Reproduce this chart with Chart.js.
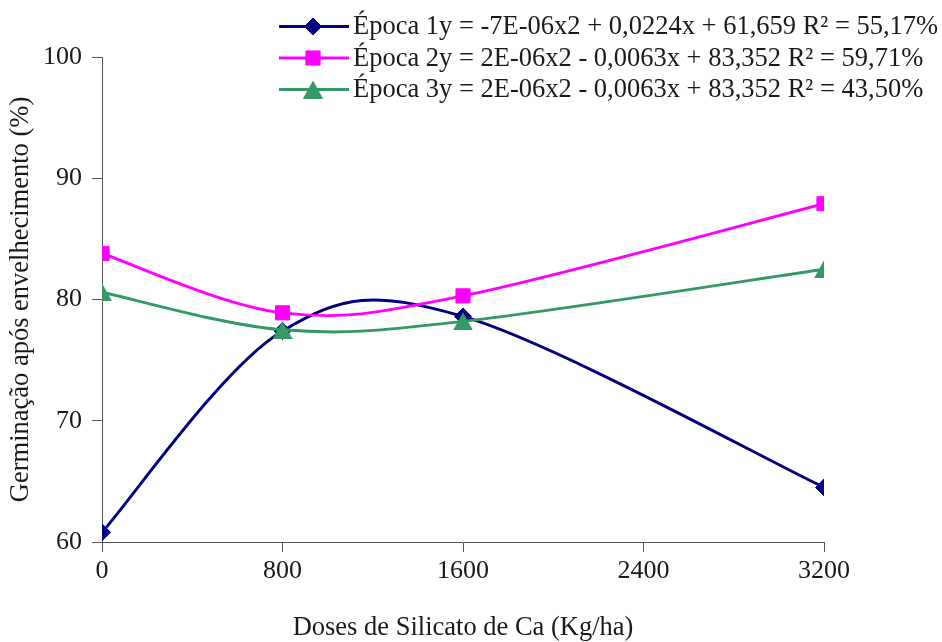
<!DOCTYPE html>
<html>
<head>
<meta charset="utf-8">
<script src="https://cdn.jsdelivr.net/npm/chart.js@4/dist/chart.umd.min.js"></script>
<style>
html,body{margin:0;padding:0;background:#fff;}
#wrap{width:942px;height:642px;}
canvas{display:block;}
</style>
</head>
<body>
<div id="wrap"><canvas id="c" width="942" height="642"></canvas></div>
<script>
// ---- data ----
const doses = [0, 800, 1600, 3200];
const epoca1 = [60.8, 77.4, 78.6, 64.5];
const epoca2 = [83.8, 78.9, 80.3, 87.9];
const epoca3 = [80.6, 77.5, 78.2, 82.5];
const seriesLabels = [
  'Época 1y = -7E-06x2 + 0,0224x + 61,659 R² = 55,17%',
  'Época 2y = 2E-06x2 - 0,0063x + 83,352 R² = 59,71%',
  'Época 3y = 2E-06x2 - 0,0063x + 83,352 R² = 43,50%'
];
const xTicks = [0, 800, 1600, 2400, 3200];
const yTicks = [60, 70, 80, 90, 100];
const xTitle = 'Doses de Silicato de Ca (Kg/ha)';
const yTitle = 'Germinação após envelhecimento (%)';

// ---- styles ----
const FONT = '"Liberation Serif", "Times New Roman", serif';
const TEXT = '#1a1a1a';
const AXIS = '#555555';
const colors = ['#000080', '#FF00FF', '#339966'];

function makeTriangle(color) {
  const c = document.createElement('canvas');
  c.width = 20; c.height = 18;
  const g = c.getContext('2d');
  g.fillStyle = color;
  g.beginPath();
  g.moveTo(10, 0); g.lineTo(20, 18); g.lineTo(0, 18);
  g.closePath(); g.fill();
  return c;
}
const triangle = makeTriangle(colors[2]);
const pointStyles = ['rectRot', 'rect', triangle];
const pointRadii = [8.5, 10, 10];

function toXY(ys) { return doses.map((x, i) => ({x: x, y: ys[i]})); }
const seriesValues = [epoca1, epoca2, epoca3];

const datasets = seriesValues.map((vals, i) => ({
  label: seriesLabels[i],
  data: toXY(vals),
  borderColor: colors[i],
  backgroundColor: colors[i],
  borderWidth: 2.9,
  pointStyle: pointStyles[i],
  pointRadius: pointRadii[i],
  pointHoverRadius: pointRadii[i],
  pointBorderWidth: 1,
  pointBorderColor: colors[i],
  pointBackgroundColor: colors[i],
  tension: 0.4,
  fill: false,
  order: 3 - i
}));

// Excel-style smoothing: control points at +/- (P[i+1]-P[i-1])/6
const excelSmooth = {
  id: 'excelSmooth',
  beforeDatasetDraw(chart, args) {
    const meta = args.meta;
    const pts = meta.data;
    const n = pts.length;
    for (let i = 0; i < n; i++) {
      const p = pts[i];
      const a = pts[Math.max(i - 1, 0)];
      const b = pts[Math.min(i + 1, n - 1)];
      const dx = (b.x - a.x) / 6, dy = (b.y - a.y) / 6;
      p.cp1x = p.x - dx; p.cp1y = p.y - dy;
      p.cp2x = p.x + dx; p.cp2y = p.y + dy;
    }
    meta.dataset._pointsUpdated = true;
    meta.dataset._path = undefined;
  }
};

function drawMarker(ctx, style, x, y, r, color) {
  ctx.save();
  ctx.fillStyle = color;
  ctx.strokeStyle = color;
  ctx.lineWidth = 1;
  if (typeof style === 'object') {
    ctx.drawImage(style, x - style.width / 2, y - style.height / 2);
  } else if (style === 'rectRot') {
    ctx.beginPath();
    ctx.moveTo(x - r, y); ctx.lineTo(x, y - r); ctx.lineTo(x + r, y); ctx.lineTo(x, y + r);
    ctx.closePath(); ctx.fill(); ctx.stroke();
  } else {
    const s = Math.SQRT1_2 * r;
    ctx.beginPath();
    ctx.rect(x - s, y - s, 2 * s, 2 * s);
    ctx.fill(); ctx.stroke();
  }
  ctx.restore();
}

const customLegend = {
  id: 'customLegend',
  afterDraw(chart) {
    const ctx = chart.ctx;
    const rows = [26.5, 58, 89.5];
    const x0 = 279, x1 = 349, xm = 313, xt = 353;
    chart.data.datasets.forEach((ds, i) => {
      const y = rows[i];
      ctx.save();
      ctx.strokeStyle = ds.borderColor;
      ctx.lineWidth = ds.borderWidth;
      ctx.beginPath();
      ctx.moveTo(x0, y); ctx.lineTo(x1, y);
      ctx.stroke();
      ctx.restore();
      drawMarker(ctx, ds.pointStyle, xm, y, ds.pointRadius, ds.borderColor);
      ctx.save();
      ctx.fillStyle = TEXT;
      ctx.font = '26.5px ' + FONT;
      ctx.textAlign = 'left';
      ctx.textBaseline = 'middle';
      ctx.fillText(ds.label, xt, y + 1);
      ctx.restore();
    });
  }
};

const whiteBg = {
  id: 'whiteBg',
  beforeDraw(chart) {
    const ctx = chart.ctx;
    ctx.save();
    ctx.fillStyle = '#ffffff';
    ctx.fillRect(0, 0, chart.width, chart.height);
    ctx.restore();
  }
};

new Chart(document.getElementById('c'), {
  type: 'line',
  data: { datasets: datasets },
  plugins: [whiteBg, excelSmooth, customLegend],
  options: {
    responsive: false,
    animation: false,
    devicePixelRatio: 1,
    layout: { padding: { top: 57, right: 118, left: 0, bottom: 0 } },
    plugins: {
      legend: { display: false },
      tooltip: { enabled: false }
    },
    elements: { line: { capBezierPoints: false } },
    scales: {
      x: {
        type: 'linear',
        min: 0, max: 3200,
        afterBuildTicks: s => { s.ticks = xTicks.map(v => ({value: v})); },
        afterFit: s => { s.height = 100; },
        ticks: {
          font: { family: FONT, size: 26 },
          color: TEXT,
          padding: 4,
          maxRotation: 0,
          autoSkip: false,
          callback: v => String(v)
        },
        grid: { drawOnChartArea: false, drawTicks: true, tickLength: 10, color: AXIS, lineWidth: 1 },
        border: { display: true, color: AXIS, width: 1 },
        title: {
          display: true,
          text: xTitle,
          font: { family: FONT, size: 26.5 },
          color: TEXT,
          padding: { top: 0, bottom: -2 }
        }
      },
      y: {
        type: 'linear',
        min: 60, max: 100,
        afterBuildTicks: s => { s.ticks = yTicks.map(v => ({value: v})); },
        afterFit: s => { s.width = 102; },
        ticks: {
          font: { family: FONT, size: 26 },
          color: TEXT,
          padding: 10,
          callback: v => String(v)
        },
        grid: { drawOnChartArea: false, drawTicks: true, tickLength: 10, color: AXIS, lineWidth: 1 },
        border: { display: true, color: AXIS, width: 1 },
        title: {
          display: true,
          text: yTitle,
          font: { family: FONT, size: 26.5 },
          color: TEXT,
          padding: { top: 5, bottom: 0 }
        }
      }
    }
  }
});
</script>
</body>
</html>
